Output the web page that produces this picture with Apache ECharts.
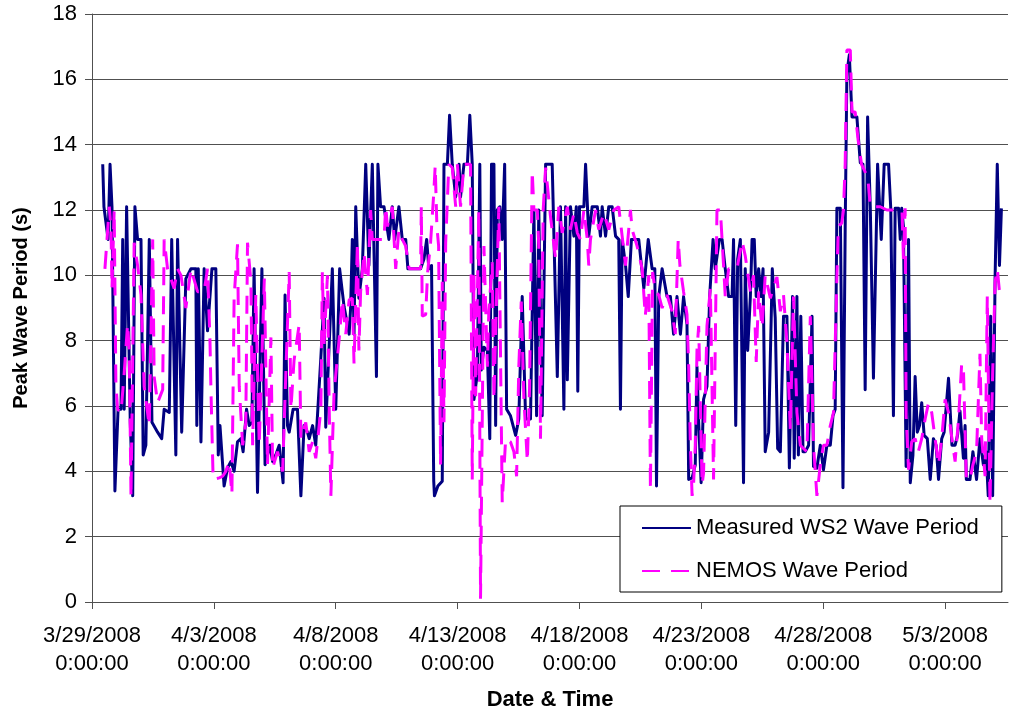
<!DOCTYPE html>
<html>
<head>
<meta charset="utf-8">
<script src="https://cdn.jsdelivr.net/npm/echarts@6.0.0/dist/echarts.min.js"></script>
<style>
html,body{margin:0;padding:0;background:#fff;}
#main{width:1009px;height:713px;}
</style>
</head>
<body>
<div id="main"></div>
<script>
// Time is given in days since 3/29/2008 0:00:00
const tickDays = [0, 5, 10, 15, 20, 25, 30, 35];
const periodTicks = [0, 2, 4, 6, 8, 10, 12, 14, 16, 18];
const seriesNames = ['Measured WS2 Wave Period', 'NEMOS Wave Period'];

const measuredDays = [
  0.44,0.49,0.57,0.66,0.74,0.82,0.94,1.07,1.19,1.26,1.32,1.42,1.57,1.67,1.76,1.87,2.01,2.10,2.21,2.35,
  2.46,2.69,2.86,2.96,3.17,3.27,3.44,3.51,3.68,3.85,4.06,4.26,4.30,4.36,4.47,4.60,4.74,4.92,
  5.08,5.18,5.25,5.42,5.56,5.70,5.83,5.97,6.11,6.20,6.34,6.45,6.56,6.65,6.79,6.86,6.97,7.10,7.30,7.41,
  7.54,7.68,7.84,7.92,8.02,8.09,8.25,8.43,8.57,8.70,8.84,8.91,9.05,9.18,9.39,9.52,9.59,9.86,
  10.00,10.16,10.34,10.55,10.61,10.68,10.75,10.82,10.95,11.09,11.23,11.36,11.50,11.57,11.67,11.73,11.84,11.98,12.18,12.32,
  12.42,12.59,12.73,12.87,12.96,13.48,13.62,13.73,13.82,13.93,14.02,14.05,14.19,14.37,14.44,14.58,14.67,14.78,14.92,
  15.06,15.12,15.26,15.40,15.50,15.60,15.67,15.81,15.91,15.97,16.08,16.22,16.32,16.39,16.49,16.56,16.63,16.73,16.83,16.93,
  17.01,17.17,17.38,17.51,17.65,17.79,17.99,18.13,18.24,18.33,18.47,18.61,18.88,19.09,19.22,19.36,19.43,19.50,19.63,19.77,19.87,19.93,
  20.00,20.18,20.25,20.38,20.52,20.73,20.86,20.93,21.07,21.20,21.34,21.48,21.61,21.68,21.75,21.89,22.00,22.13,22.43,22.64,
  22.82,22.98,23.09,23.16,23.25,23.39,23.59,23.73,23.86,24.00,24.14,24.27,24.41,24.48,24.62,24.75,24.82,24.89,24.99,
  25.09,25.23,25.34,25.48,25.57,25.74,25.85,25.98,26.12,26.26,26.32,26.41,26.49,26.60,26.67,26.73,26.80,26.90,27.01,27.08,
  27.17,27.25,27.35,27.45,27.53,27.62,27.76,27.83,27.91,28.03,28.13,28.24,28.37,28.51,28.61,28.74,28.81,28.92,28.98,29.08,
  29.17,29.26,29.40,29.54,29.60,29.74,29.88,
  30.01,30.15,30.29,30.40,30.49,30.56,30.70,30.81,30.90,30.97,31.07,31.18,31.38,31.52,31.63,31.72,31.82,31.93,32.06,32.23,
  32.38,32.50,32.68,32.77,32.88,32.95,33.09,33.16,33.22,33.29,33.40,33.50,33.57,33.68,33.77,33.86,33.95,34.04,34.14,34.27,
  34.39,34.52,34.63,34.73,34.86,34.96,
  35.14,35.28,35.41,35.51,35.61,35.75,35.82,35.87,36.02,36.14,36.29,36.43,36.57,36.68,36.77,36.87,36.95,37.05,37.14,37.23,37.31
];
const measuredPeriod = [
  13.4,12.1,12.1,11.1,13.4,12.1,3.4,5.9,5.9,11.1,5.9,12.1,5.5,3.25,12.1,11.1,11.1,4.5,4.8,11.1,
  5.5,5.2,5.0,5.9,5.8,11.1,4.5,11.1,5.2,9.9,10.2,10.2,5.4,10.2,4.9,10.2,8.3,10.2,
  10.2,4.5,5.4,3.55,4.1,4.3,4.0,4.9,5.0,4.6,5.9,5.4,5.5,10.2,3.35,3.35,10.2,4.2,4.8,4.3,
  4.5,4.8,3.65,9.4,5.4,5.2,5.9,5.9,3.25,5.4,5.2,5.0,5.4,4.8,7.5,9.3,5.35,10.2,
  5.9,10.2,9.05,8.2,9.0,11.1,8.2,12.1,9.3,10.2,13.4,10.3,13.4,13.4,6.9,13.4,12.1,12.1,11.1,12.1,
  11.1,12.1,11.1,11.1,10.2,10.2,10.5,11.1,10.2,10.3,3.7,3.25,3.55,3.7,13.4,13.4,14.9,13.4,12.4,
  13.4,12.4,13.4,13.4,14.9,13.4,6.2,7.0,13.4,7.1,7.8,7.7,5.0,13.4,13.4,5.4,12.0,12.1,11.1,13.4,
  5.9,5.7,5.1,5.6,9.35,5.6,5.6,12.0,5.7,12.0,5.7,13.4,13.4,6.9,12.1,5.9,12.1,6.8,12.1,11.2,12.1,6.45,
  12.1,12.1,13.4,11.2,12.1,12.1,11.2,12.1,11.2,12.1,12.1,11.2,11.1,5.9,11.1,10.3,9.35,11.1,11.1,9.6,
  11.1,10.2,10.2,3.55,9.35,10.2,9.35,9.35,8.2,9.35,8.2,9.35,8.5,3.75,3.8,4.2,7.2,5.5,3.65,
  6.2,6.6,9.35,11.1,10.2,11.1,11.1,10.2,9.35,9.35,11.1,5.4,10.5,11.1,11.1,3.65,10.2,7.7,9.35,11.1,
  11.1,9.35,10.2,9.35,10.2,4.6,5.2,5.2,10.2,8.7,4.7,4.6,8.75,8.75,4.1,9.35,4.4,9.35,4.5,8.75,
  4.6,4.6,4.8,8.75,4.15,4.1,4.8,
  4.05,4.8,4.8,5.7,5.9,12.05,12.05,3.5,11.4,16.2,16.75,14.85,14.85,13.45,13.4,6.5,14.85,12.1,6.85,13.4,
  11.1,13.4,13.4,12.05,5.7,12.05,12.05,11.1,12.05,11.5,4.15,11.1,3.65,4.5,6.9,5.2,5.4,6.1,5.1,5.0,
  3.75,5.0,4.8,3.75,5.0,5.2,
  6.85,4.8,4.8,5.1,5.85,4.4,5.4,3.75,3.75,4.6,3.75,5.0,4.2,4.6,3.25,8.75,3.25,9.9,13.4,10.3,12.05
];

const nemosDays = [
  0.53,0.71,0.78,0.82,0.91,0.98,1.05,1.19,1.32,1.46,1.53,1.60,1.73,1.87,2.01,2.14,2.35,2.49,2.55,2.69,
  2.90,2.96,3.10,3.37,3.51,3.65,3.85,4.06,4.33,4.60,4.74,4.84,4.88,4.97,
  5.22,5.36,5.49,5.63,5.74,5.83,5.97,6.04,6.18,6.31,6.38,6.52,6.59,6.72,6.86,7.07,7.20,7.34,7.41,7.61,
  7.82,8.09,8.16,8.29,8.50,8.57,8.77,8.91,9.05,9.18,9.39,9.45,9.52,9.66,9.73,9.80,9.93,
  10.14,10.27,10.41,10.55,10.68,10.75,10.89,10.95,11.02,11.16,11.30,11.43,11.50,11.98,12.05,12.12,12.32,12.46,12.59,12.73,
  12.87,13.01,13.48,13.51,13.55,13.69,13.77,13.89,14.02,14.08,14.15,14.22,14.30,14.37,14.44,14.51,14.64,14.78,14.92,14.99,
  15.12,15.26,15.40,15.53,15.60,15.67,15.74,15.87,15.94,16.08,16.22,16.28,16.42,16.49,16.69,16.76,16.83,16.97,17.17,17.31,
  17.42,17.51,17.61,17.72,17.86,17.95,18.06,18.13,18.27,18.33,18.40,18.51,18.61,18.81,19.02,19.15,19.29,19.50,19.63,19.77,19.91,
  20.04,20.18,20.32,20.38,20.45,20.66,20.79,21.00,21.20,21.41,21.61,21.75,21.89,22.09,22.16,22.36,22.57,22.70,22.84,22.91,
  23.00,23.11,23.25,23.39,23.59,23.80,23.93,24.05,24.12,24.27,24.41,24.48,24.55,24.62,24.68,24.75,24.82,24.89,24.96,
  25.03,25.09,25.23,25.37,25.50,25.64,25.78,25.91,25.98,26.12,26.46,26.67,26.80,27.01,27.14,27.25,27.35,27.49,27.62,27.83,
  28.10,28.24,28.37,28.51,28.65,28.78,28.92,29.06,29.19,29.33,29.47,29.60,29.74,29.88,
  30.01,30.15,30.29,30.42,30.56,30.62,30.76,30.83,30.90,30.97,31.11,31.18,31.31,31.43,31.57,31.70,31.84,31.93,32.34,32.61,
  33.23,33.29,33.36,33.40,33.50,33.63,33.77,33.90,34.04,34.18,34.32,34.45,34.59,34.73,34.86,35.00,
  35.14,35.28,35.41,35.55,35.68,35.75,35.87,36.02,36.14,36.29,36.43,36.50,36.64,36.73,36.84,36.95,37.05,37.14,37.25
];
const nemosPeriod = [
  10.2,12.1,11.4,9.6,12.0,6.7,5.9,5.8,7.0,8.5,7.7,3.2,11.0,10.3,9.4,6.6,5.4,11.1,6.9,6.1,
  6.5,11.1,10.2,9.6,10.2,10.0,9.0,10.2,9.5,9.5,10.2,8.0,6.5,3.75,
  3.8,3.85,4.0,4.3,3.3,9.3,10.95,6.6,4.8,5.5,11.0,9.8,4.8,9.4,4.8,9.9,4.2,8.1,4.1,4.6,
  4.0,10.1,5.9,7.4,8.5,5.0,5.5,4.6,4.9,4.4,5.9,10.1,7.9,10.0,6.0,3.25,6.4,
  8.05,9.25,8.2,9.25,9.3,7.3,11.0,7.7,9.5,10.7,9.4,12.0,11.1,11.1,12.1,11.5,12.1,10.2,11.4,11.1,
  10.9,10.2,10.2,12.1,8.75,8.8,10.1,11.0,12.5,13.35,11.5,10.9,4.2,9.8,5.5,11.0,13.4,13.3,12.1,13.4,
  12.1,13.4,13.4,13.4,3.75,10.0,6.3,12.0,0.1,10.9,7.2,8.9,10.4,6.2,12.1,12.1,3.05,5.0,4.9,4.6,
  3.85,7.2,9.2,6.2,4.3,6.5,13.2,12.0,12.0,10.9,5.0,12.0,13.3,11.8,10.5,12.1,11.3,12.1,11.4,11.9,11.3,
  11.1,12.0,11.1,10.3,11.1,12.0,11.4,11.9,11.4,12.0,12.1,11.2,10.3,12.0,11.4,10.9,10.2,8.75,10.0,3.45,
  10.1,9.5,9.4,9.0,9.4,8.9,8.2,11.1,10.3,9.5,8.8,7.2,4.8,3.25,3.6,4.8,7.7,8.45,6.0,
  3.6,3.95,8.45,9.6,3.75,12.0,12.0,10.3,9.35,10.2,10.2,11.05,10.6,9.5,10.0,7.35,9.5,8.4,10.0,9.3,
  9.95,8.9,9.4,7.95,5.3,9.35,5.8,4.8,4.7,4.6,8.75,4.8,3.25,4.2,
  4.8,4.8,5.4,5.8,9.95,11.5,11.6,12.0,13.4,16.9,16.9,15.0,15.0,14.15,13.4,13.2,12.9,12.1,12.1,12.0,
  12.0,10.5,12.05,5.7,4.05,4.9,5.0,4.6,5.0,5.6,6.1,5.8,5.0,4.2,5.0,6.2,
  5.8,5.0,4.3,5.6,7.3,7.2,3.75,3.75,4.2,4.6,7.6,5.0,3.85,9.35,3.0,7.0,9.8,10.2,9.35
];

const xMax = 37.58;

function zip(xs, ys) { return xs.map(function (x, i) { return [x, ys[i]]; }); }
function dayLabel(v) {
  const d = new Date(2008, 2, 29 + Math.round(v));
  return (d.getMonth() + 1) + '/' + d.getDate() + '/' + d.getFullYear() + '\n0:00:00';
}

const chart = echarts.init(document.getElementById('main'));
const axisGray = '#505050';
chart.setOption({
  animation: false,
  backgroundColor: '#ffffff',
  textStyle: { fontFamily: '"Liberation Sans", Arial, sans-serif' },
  grid: { left: 92, right: 1, top: 14, bottom: 111, containLabel: false, outerBoundsMode: 'none' },
  legend: {
    orient: 'vertical',
    left: 620, top: 506,
    padding: [11, 23, 10, 21],
    itemGap: 21, itemWidth: 49, itemHeight: 20,
    borderColor: '#000', borderWidth: 1, borderRadius: 0,
    backgroundColor: '#fff',
    itemStyle: { color: 'rgba(0,0,0,0)', borderColor: 'rgba(0,0,0,0)', borderWidth: 0, opacity: 0 },
    textStyle: { fontSize: 22, color: '#000' },
    data: seriesNames
  },
  xAxis: {
    type: 'value', min: 0, max: xMax, interval: 5,
    splitLine: { show: false },
    axisLine: { lineStyle: { color: axisGray, width: 1 } },
    axisTick: { show: true, customValues: tickDays, length: 7, lineStyle: { color: axisGray } },
    axisLabel: { customValues: tickDays, formatter: dayLabel, fontSize: 22, color: '#000', lineHeight: 28, margin: 20 },
    name: 'Date & Time', nameLocation: 'middle', nameGap: 87,
    nameTextStyle: { fontSize: 22, fontWeight: 'bold', color: '#000' }
  },
  yAxis: {
    type: 'value', min: periodTicks[0], max: periodTicks[periodTicks.length - 1], interval: 2,
    splitLine: { show: true, lineStyle: { color: axisGray, width: 1 } },
    axisLine: { show: true, lineStyle: { color: axisGray, width: 1 } },
    axisTick: { show: true, length: 7, lineStyle: { color: axisGray } },
    axisLabel: { fontSize: 22, color: '#000', margin: 15 },
    name: 'Peak Wave Period (s)', nameLocation: 'middle', nameGap: 61, nameRotate: 90,
    nameTextStyle: { fontSize: 20, fontWeight: 'bold', color: '#000' }
  },
  series: [
    {
      name: seriesNames[0], type: 'line', data: zip(measuredDays, measuredPeriod),
      showSymbol: false, symbol: 'none', z: 2,
      lineStyle: { color: '#000080', width: 3, join: 'round' },
      itemStyle: { color: '#000080' }
    },
    {
      name: seriesNames[1], type: 'line', data: zip(nemosDays, nemosPeriod),
      showSymbol: false, symbol: 'none', z: 3,
      lineStyle: { color: '#FF00FF', width: 3, type: [18, 11] },
      itemStyle: { color: '#FF00FF' }
    }
  ]
});
</script>
</body>
</html>
